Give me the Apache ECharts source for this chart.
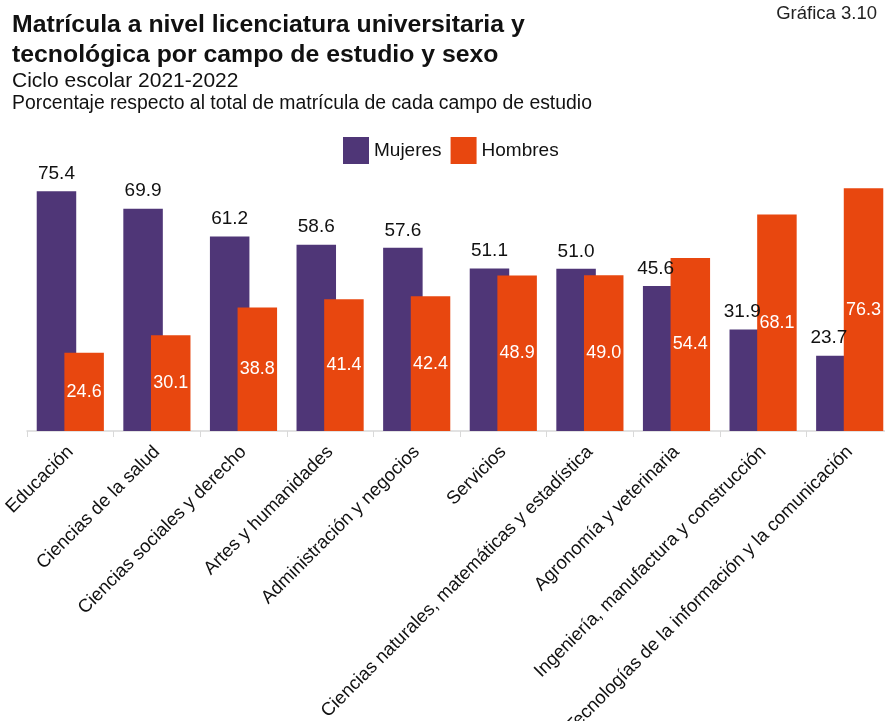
<!DOCTYPE html>
<html>
<head>
<meta charset="utf-8">
<script src="https://cdn.jsdelivr.net/npm/echarts@6/dist/echarts.min.js"></script>
<style>
html,body{margin:0;padding:0;background:#fff;}
#chart{width:885px;height:721px;}
</style>
</head>
<body>
<div id="chart"></div>
<script>
const categories = [
  'Educación',
  'Ciencias de la salud',
  'Ciencias sociales y derecho',
  'Artes y humanidades',
  'Administración y negocios',
  'Servicios',
  'Ciencias naturales, matemáticas y estadística',
  'Agronomía y veterinaria',
  'Ingeniería, manufactura y construcción',
  'Tecnologías de la información y la comunicación'
];
const mujeres = [75.4, 69.9, 61.2, 58.6, 57.6, 51.1, 51.0, 45.6, 31.9, 23.7];
const hombres = [24.6, 30.1, 38.8, 41.4, 42.4, 48.9, 49.0, 54.4, 68.1, 76.3];
const seriesNames = ['Mujeres', 'Hombres'];

const FONT = "'Liberation Sans', Arial, sans-serif";
const PURPLE = '#4F3677';
const ORANGE = '#E8470F';

const chart = echarts.init(document.getElementById('chart'), null, {renderer: 'canvas'});

const mujeresData = mujeres.map((v, i) => ({
  value: v,
  label: { offset: hombres[i] > v ? [-7, 0] : [0, 0] }
}));

function txt(x, y, text, font, fill, align) {
  return { type: 'text', style: { x: x, y: y, text: text, font: font, fill: fill,
    textAlign: align || 'left', align: align || 'left',
    textVerticalAlign: 'middle', verticalAlign: 'middle' } };
}

chart.setOption({
  backgroundColor: '#ffffff',
  animation: false,
  textStyle: { fontFamily: FONT },
  graphic: [
    txt(12, 25, 'Matrícula a nivel licenciatura universitaria y', 'bold 24.8px ' + FONT, '#111'),
    txt(12, 55, 'tecnológica por campo de estudio y sexo', 'bold 24.8px ' + FONT, '#111'),
    txt(12, 81.5, 'Ciclo escolar 2021-2022', '21px ' + FONT, '#111'),
    txt(12, 104, 'Porcentaje respecto al total de matrícula de cada campo de estudio', '19.4px ' + FONT, '#111'),
    txt(877, 14, 'Gráfica 3.10', '18.5px ' + FONT, '#222', 'right')
  ],
  legend: {
    data: seriesNames,
    left: 338,
    top: 132,
    itemWidth: 26,
    itemHeight: 27,
    itemGap: 9,
    textStyle: { fontSize: 19, color: '#111', fontFamily: FONT },
    icon: 'rect'
  },
  grid: { left: 27, right: -8, top: 113, bottom: 290, containLabel: false, outerBoundsMode: 'none' },
  xAxis: {
    type: 'category',
    data: categories,
    axisLine: { lineStyle: { color: '#d9d9d9', width: 1.5 } },
    axisTick: { show: true, length: 6, lineStyle: { color: '#d9d9d9' } },
    axisLabel: { interval: 0, rotate: 45, fontSize: 18.5, color: '#111', margin: 18, fontFamily: FONT }
  },
  yAxis: { type: 'value', min: 0, max: 100, show: false, splitLine: { show: false } },
  series: [
    {
      name: seriesNames[0], type: 'bar', data: mujeresData,
      barWidth: 39.5, barGap: '-30%',
      itemStyle: { color: PURPLE },
      label: { show: true, position: 'top', distance: 8, fontSize: 19, color: '#111', fontFamily: FONT,
        formatter: p => p.value.toFixed(1) }
    },
    {
      name: seriesNames[1], type: 'bar', data: hombres,
      barWidth: 39.5, barGap: '-30%',
      itemStyle: { color: ORANGE },
      label: { show: true, position: 'inside', fontSize: 18, color: '#fff', fontFamily: FONT,
        formatter: p => p.value.toFixed(1) }
    }
  ]
});
</script>
</body>
</html>
